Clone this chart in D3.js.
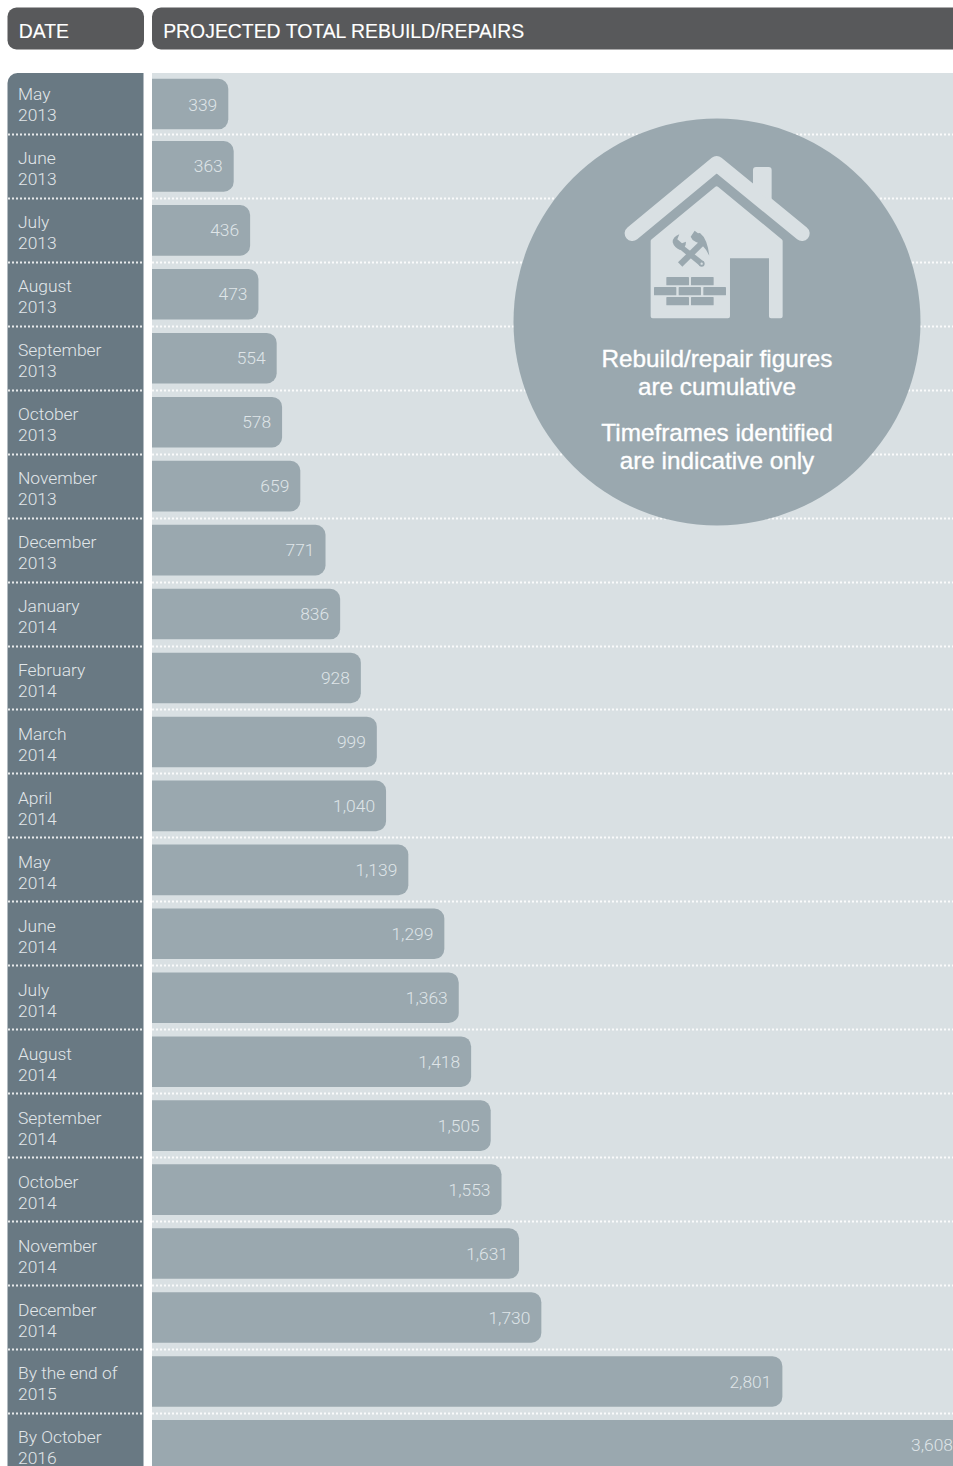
<!DOCTYPE html>
<html>
<head>
<meta charset="utf-8">
<script src="https://cdn.jsdelivr.net/npm/d3@7"></script>
<style>
html,body{margin:0;padding:0;background:#fff;overflow:hidden}
svg{display:block}
</style>
</head>
<body>
<svg id="chart" width="953" height="1466"></svg>
<script>
// Projected rebuild/repair totals, cumulative by period.
const periods = ["May","June","July","August","September","October","November","December","January","February","March","April","May","June","July","August","September","October","November","December","By the end of","By October"];
const years = ["2013","2013","2013","2013","2013","2013","2013","2013","2014","2014","2014","2014","2014","2014","2014","2014","2014","2014","2014","2014","2015","2016"];
const totals = [339,363,436,473,554,578,659,771,836,928,999,1040,1139,1299,1363,1418,1505,1553,1631,1730,2801,3608];
const headers = ["DATE","PROJECTED TOTAL REBUILD/REPAIRS"];
const noteLines = ["Rebuild/repair figures","are cumulative","Timeframes identified","are indicative only"];

const W = 953, H = 1466;
const C = {head:"#58595b", date:"#697983", panel:"#d9e0e3", bar:"#9aa8af", dot:"#ffffff", label:"#dfe5e8", dateText:"#e2e7ea"};
const lightFont = "Roboto, 'Liberation Sans', sans-serif";
const mediumFont = "'Liberation Sans', Arial, sans-serif";

const svg = d3.select("#chart");
const keys = d3.range(totals.length);

const y = d3.scaleBand().domain(keys).range([70.46, 70.46 + 63.95 * totals.length]);
const x = d3.scaleLinear().domain([0, 3608]).range([152, 964]);
const barH = 50.6;
const rowTop = i => y(i) + (y.bandwidth() - barH) / 2 + (i === 0 ? 1.6 : 0);

// Column headers
const headCols = [{x:7.5, w:136.5, text:headers[0]}, {x:152, w:820, text:headers[1]}];
svg.selectAll("rect.head").data(headCols).join("rect")
  .attr("class","head").attr("x",d=>d.x).attr("y",7.5).attr("width",d=>d.w).attr("height",42)
  .attr("rx",9).attr("fill",C.head);
svg.selectAll("text.head").data(headCols).join("text")
  .attr("class","head").attr("x",d=>d.x+11.2).attr("y",37.5)
  .attr("fill","#fff").attr("font-family",mediumFont).attr("font-size",19.4)
  .attr("stroke","#fff").attr("stroke-width",0.12)
  .text(d=>d.text);

// Date column and chart background
svg.append("path").attr("fill",C.date)
  .attr("d",`M7.5 1466V83a10 10 0 0 1 10-10H143.5V1466Z`);
svg.append("rect").attr("x",152).attr("y",73).attr("width",W-152).attr("height",H-73).attr("fill",C.panel);

// Dotted separators between rows, snapped to the pixel grid
const seps = keys.slice(1);
[[8,143],[152,W]].forEach(([a,b],k)=>{
  svg.selectAll(`line.sep${k}`).data(seps).join("line")
    .attr("class",`sep${k}`)
    .attr("x1",a).attr("x2",b)
    .attr("y1",d=>Math.floor(y(d))+0.5).attr("y2",d=>Math.floor(y(d))+0.5)
    .attr("stroke",C.dot).attr("stroke-width",1.8).attr("stroke-opacity",0.85).attr("stroke-dasharray","2 2");
});

// Bars: square on the left, rounded on the right
const barPath = i => {
  const p = d3.path(), r = 10, t = rowTop(i), e = x(totals[i]), b = t + barH;
  p.moveTo(152,t); p.lineTo(e-r,t); p.arcTo(e,t,e,t+r,r);
  p.lineTo(e,b-r); p.arcTo(e,b,e-r,b,r); p.lineTo(152,b); p.closePath();
  return p.toString();
};
svg.selectAll("path.bar").data(keys).join("path")
  .attr("class","bar").attr("d",barPath).attr("fill",C.bar);

// Value labels sit inside the bar end
svg.selectAll("text.val").data(keys).join("text")
  .attr("class","val")
  .attr("x",i=>x(totals[i])-11)
  .attr("y",i=>rowTop(i)+barH/2+(i === 0 ? 7 : 6.1))
  .attr("text-anchor","end")
  .attr("fill",C.label).attr("font-family",lightFont).attr("font-weight",300).attr("font-size",17.4)
  .text(i=>d3.format(",")(totals[i]));

// Date labels on two lines
const dateG = svg.selectAll("g.date").data(keys).join("g").attr("class","date")
  .attr("transform",i=>`translate(18,${y(i)+30})`)
  .attr("fill",C.dateText).attr("font-family",lightFont).attr("font-weight",300).attr("font-size",17.4);
dateG.append("text").attr("y",0).text(i=>periods[i]);
dateG.append("text").attr("y",21).text(i=>years[i]);

// Note badge
svg.append("circle").attr("cx",717).attr("cy",322).attr("r",203.5).attr("fill",C.bar);
svg.selectAll("text.note").data(noteLines).join("text")
  .attr("class","note").attr("x",717)
  .attr("y",(d,i)=>[367,395,441,469][i])
  .attr("text-anchor","middle").attr("fill","#fff").attr("font-family",mediumFont)
  .attr("font-size",24.3).attr("stroke","#fff").attr("stroke-width",0.35)
  .text(d=>d);

// House icon with crossed tools and a stack of bricks
const icon = svg.append("g").attr("transform","translate(600,140) scale(0.3333)");
icon.append("path").attr("fill",C.panel).attr("stroke",C.panel).attr("stroke-width",12).attr("stroke-linejoin","round")
  .attr("d","M158 303L350 145L542 303V529H513V349H384V529H158Z");
icon.append("path").attr("fill","none").attr("stroke",C.panel).attr("stroke-width",46).attr("stroke-linecap","round").attr("stroke-linejoin","round")
  .attr("d","M97 280L350 71L606 280");
icon.append("path").attr("fill",C.panel).attr("d","M459 140V90Q459 81 468 81H506Q515 81 515 90V190Z");

const brickRows = [[[199,267],[273,341]],[[162,229],[236,303],[310,378]],[[199,267],[273,341]]];
brickRows.forEach((row,r)=>{
  icon.selectAll(`rect.b${r}`).data(row).join("rect").attr("class",`b${r}`)
    .attr("x",d=>d[0]).attr("width",d=>d[1]-d[0]).attr("y",411+30*r).attr("height",25).attr("rx",2).attr("fill",C.bar);
});
const tools = icon.append("g").attr("fill",C.bar);
tools.append("path").attr("d","M234 367L300 302L313 315L247 380Z");
tools.append("path").attr("d","M272 290L284 272L294 280L300 279Q322 296 328 347Q312 312 288 306L278 300Z");
tools.append("path").attr("d","M248 315L312 365L300 378L236 325Z");
tools.append("path").attr("d","M238 283Q218 290 218 307Q222 322 240 330Q258 325 258 305L246 310L232 298Z");
tools.append("circle").attr("cx",305).attr("cy",371).attr("r",9);
tools.append("circle").attr("cx",305).attr("cy",371).attr("r",3.5).attr("fill",C.panel);
</script>
</body>
</html>
